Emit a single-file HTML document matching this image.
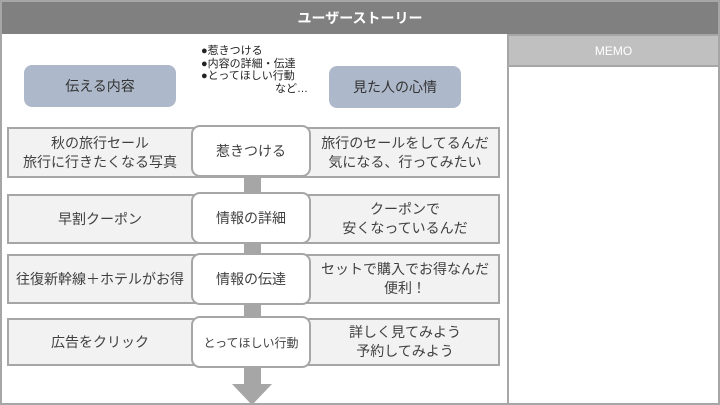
<!DOCTYPE html><html><head><meta charset="utf-8"><style>
body{margin:0;width:720px;height:405px;overflow:hidden;background:#fff;font-family:"Liberation Sans","Noto Sans CJK JP",sans-serif;position:relative}
div{position:absolute;box-sizing:border-box}
.row{left:7px;width:493px;background:#f2f2f2;border:2px solid #a6a6a6}
.c{left:191px;width:120px;background:#fff;border:2px solid #a6a6a6;border-radius:9px;display:flex;align-items:center;justify-content:center;font-size:14px;color:#404040}
.t{display:flex;align-items:center;justify-content:center;text-align:center;font-size:14px;color:#404040;line-height:19px}
.l{left:7px;width:186px}.r{left:310px;width:190px}
.b{background:#adb9ca;border-radius:8px;font-size:14px;color:#333;display:flex;align-items:center;justify-content:center}
</style></head><body>
<div style="left:0;top:0;width:720px;height:405px;border:2px solid #a6a6a6"></div>
<div style="left:2px;top:2px;width:716px;height:32px;background:#808080;color:#fff;font-weight:bold;font-size:14px;display:flex;align-items:center;justify-content:center">ユーザーストーリー</div>
<div style="left:507px;top:34px;width:213px;height:371px;border:2px solid #a6a6a6;background:#fff"></div>
<div style="left:509px;top:36px;width:209px;height:31px;background:#c0c0c0;color:#fff;font-size:12px;display:flex;align-items:center;justify-content:center;border-bottom:2px solid #a6a6a6">MEMO</div>
<div class="b" style="left:24px;top:65px;width:152px;height:42px">伝える内容</div>
<div class="b" style="left:329px;top:66px;width:132px;height:42px">見た人の心情</div>
<div style="left:201px;top:45px;font-size:11px;line-height:12.5px;color:#222">●惹きつける<br>●内容の詳細・伝達<br>●とってほしい行動<br><span style="padding-left:74px">など…</span></div>
<div style="left:244px;top:170px;width:17px;height:215px;background:#a6a6a6"></div>
<div style="left:232px;top:384px;width:0;height:0;border-left:20px solid transparent;border-right:20px solid transparent;border-top:21px solid #a6a6a6"></div>
<div class="row" style="top:127px;height:51px"></div>
<div class="row" style="top:194px;height:50px"></div>
<div class="row" style="top:254px;height:50px"></div>
<div class="row" style="top:318px;height:48px"></div>
<div class="t l" style="top:127px;height:51px">秋の旅行セール<br>旅行に行きたくなる写真</div>
<div class="t r" style="top:127px;height:51px">旅行のセールをしてるんだ<br>気になる、行ってみたい</div>
<div class="t l" style="top:194px;height:50px">早割クーポン</div>
<div class="t r" style="top:194px;height:50px">クーポンで<br>安くなっているんだ</div>
<div class="t l" style="top:254px;height:50px">往復新幹線＋ホテルがお得</div>
<div class="t r" style="top:254px;height:50px">セットで購入でお得なんだ<br>便利！</div>
<div class="t l" style="top:318px;height:48px">広告をクリック</div>
<div class="t r" style="top:318px;height:48px">詳しく見てみよう<br>予約してみよう</div>
<div class="c" style="top:125px;height:52px">惹きつける</div>
<div class="c" style="top:192px;height:52px">情報の詳細</div>
<div class="c" style="top:253px;height:52px">情報の伝達</div>
<div class="c" style="top:316px;height:52px;font-size:12px">とってほしい行動</div>
</body></html>
